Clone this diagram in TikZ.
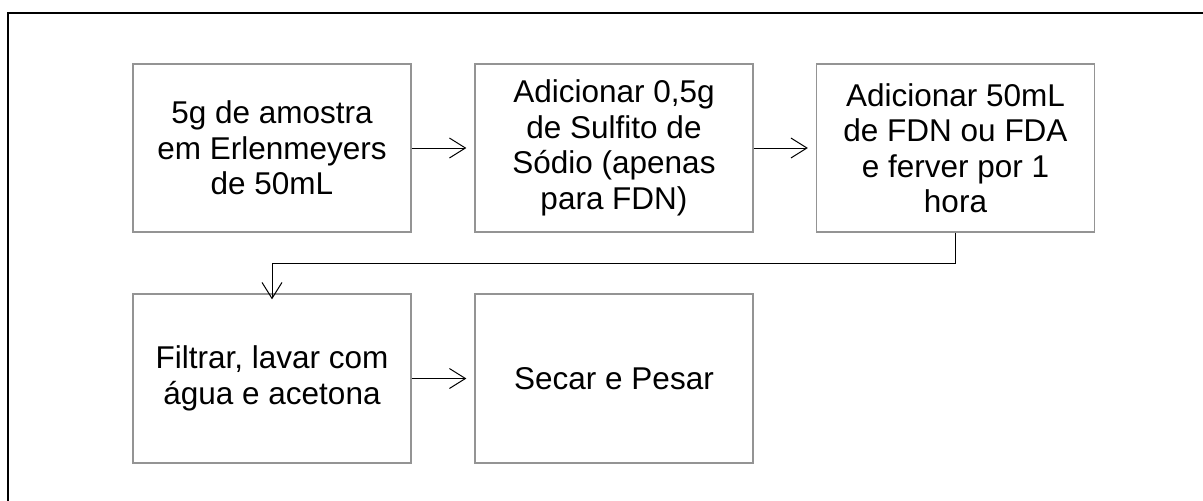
\documentclass[tikz,border=0pt]{standalone}
\usepackage{fontspec}
\setmainfont{Liberation Sans}
\usetikzlibrary{arrows.meta}

\begin{document}
\begin{tikzpicture}[x=1pt,y=-1pt,
    etapa/.style={draw=black!42, line width=1.3pt, minimum width=278pt,
                  minimum height=168pt, align=center, inner sep=0pt,
                  font=\fontsize{31.5}{35.5}\selectfont},
    seta/.style={line width=1pt, -{Straight Barb[length=16pt,width=20pt]}}]
    \useasboundingbox (0,0) rectangle (1203,501);
    \begin{scope}
       \clip (0,0) rectangle (1203,501);
       \draw[line width=1.6pt] (8,520) -- (8,13) -- (1220,13);
    \end{scope}

    \node[etapa] (e1) at ( 272,148) {5g de amostra\\em Erlenmeyers\\de 50mL};
    \node[etapa] (e2) at ( 614,148) {Adicionar 0,5g\\de Sulfito de\\Sódio (apenas\\para FDN)};
    \node[etapa] (e3) at ( 955.5,148) {Adicionar 50mL\\de FDN ou FDA\\e ferver por 1\\hora};
    \node[etapa, minimum height=169pt] (e4) at ( 272,378.5) {Filtrar, lavar com\\água e acetona};
    \node[etapa, minimum height=169pt] (e5) at ( 614,378.5) {Secar e Pesar};

    \begin{scope}[every path/.style={seta}]
       \draw (e1) -- ([xshift=-8pt]e2.west);
       \draw (e2) -- ([xshift=-8pt]e3.west);
       \draw (e3.south) -- ++(0,31) -| ([yshift=-6pt]e4.north);
       \draw (e4) -- ([xshift=-8pt]e5.west);
    \end{scope}

\end{tikzpicture}
\end{document}
